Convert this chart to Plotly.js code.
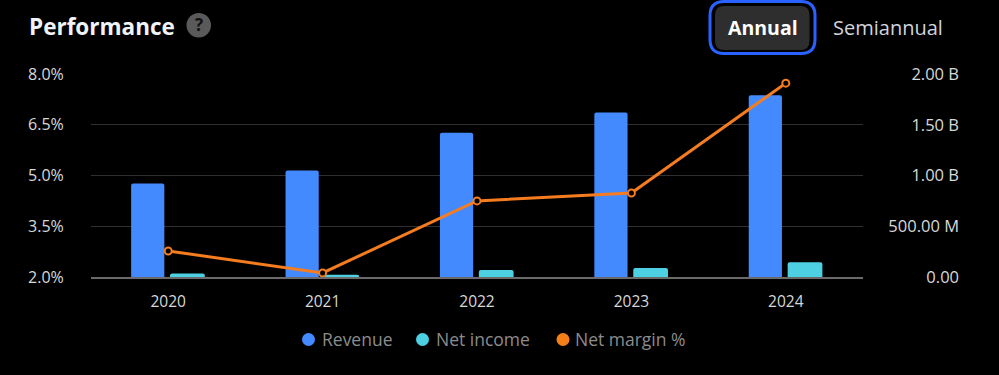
<!DOCTYPE html>
<html><head><meta charset="utf-8">
<script src="https://cdn.plot.ly/plotly-3.0.1.min.js"></script>
<style>html,body{margin:0;padding:0;background:#000;overflow:hidden}#c{width:999px;height:375px}</style>
</head><body><div id="c"></div>
<script>
const years = ['2020','2021','2022','2023','2024'];
const revenue = [0.92e9,1.05e9,1.42e9,1.62e9,1.79e9];
const netIncome = [0.035e9,0.022e9,0.07e9,0.088e9,0.145e9];
const netMargin = [2.77,2.12,4.25,4.48,7.73];
const leftTicks = [2,3.5,5,6.5,8];
const leftLabels = ['2.0%','3.5%','5.0%','6.5%','8.0%'];
const rightTicks = [0,0.5e9,1e9,1.5e9,2e9];
const rightLabels = ['0.00','500.00 M','1.00 B','1.50 B','2.00 B'];
const seriesNames = ['Revenue','Net income','Net margin %'];
const seriesColors = ['#448aff','#4dd0e1','#f57f17'];

const W=999,H=375;
const px=x=>x/W, py=y=>1-y/H;
const font='"Open Sans", sans-serif';
function rr(x0,y0,x1,y1,r){
  const X=px,Y=py;
  return `M ${X(x0+r)} ${Y(y0)} L ${X(x1-r)} ${Y(y0)} Q ${X(x1)} ${Y(y0)} ${X(x1)} ${Y(y0+r)} L ${X(x1)} ${Y(y1-r)} Q ${X(x1)} ${Y(y1)} ${X(x1-r)} ${Y(y1)} L ${X(x0+r)} ${Y(y1)} Q ${X(x0)} ${Y(y1)} ${X(x0)} ${Y(y1-r)} L ${X(x0)} ${Y(y0+r)} Q ${X(x0)} ${Y(y0)} ${X(x0+r)} ${Y(y0)} Z`;
}
const traces=[
 {type:'bar',name:seriesNames[0],x:years,y:revenue,yaxis:'y',width:0.215,offset:-0.24,marker:{color:seriesColors[0],cornerradius:2},showlegend:false,hoverinfo:'skip'},
 {type:'bar',name:seriesNames[1],x:years,y:netIncome,yaxis:'y',width:0.225,offset:0.012,marker:{color:seriesColors[1],cornerradius:2},showlegend:false,hoverinfo:'skip'},
 {type:'scatter',mode:'lines+markers',name:seriesNames[2],x:years,y:netMargin,yaxis:'y2',line:{color:'#f57c1f',width:3},marker:{size:7,color:'#000',line:{color:'#f57c1f',width:2}},showlegend:false,hoverinfo:'skip'}
];
const legendMarkerX=[308.5,422.5,563];
const legendTextX=[321.5,436,575];
const legendShapes=seriesNames.map((n,i)=>({type:'circle',xref:'paper',yref:'paper',x0:px(legendMarkerX[i]-6.5),x1:px(legendMarkerX[i]+6.5),y0:py(339.5+6.5),y1:py(339.5-6.5),line:{width:0},fillcolor:seriesColors[i]}));
const legendTexts=seriesNames.map((n,i)=>({xref:'paper',yref:'paper',x:px(legendTextX[i]),y:py(339),xanchor:'left',yanchor:'middle',xshift:-2,showarrow:false,text:n,font:{size:17.5,color:'#8c8c8c',family:font}}));
const layout={
 width:W,height:H,margin:{l:0,r:0,t:0,b:0,pad:0},
 paper_bgcolor:'#000',plot_bgcolor:'#000',font:{family:font,color:'#d1d4dc'},
 barmode:'overlay',showlegend:false,
 xaxis:{domain:[px(91),px(863)],type:'category',categoryorder:'array',categoryarray:years,range:[-0.5,4.5],
   showgrid:false,showline:true,linecolor:'#6a6a6a',linewidth:2,ticks:'outside',ticklen:9,tickcolor:'rgba(0,0,0,0)',
   tickfont:{size:15.5,color:'#d8d8d8',family:font},zeroline:false,fixedrange:true},
 yaxis:{domain:[py(277),py(74)],range:[0,2e9],side:'left',anchor:'free',position:px(959),
   tickvals:rightTicks,ticktext:rightLabels,ticks:'',showline:false,zeroline:false,
   showgrid:true,gridcolor:'#303030',gridwidth:1,tickfont:{size:16.5,color:'#d8d8d8',family:font},fixedrange:true},
 yaxis2:{domain:[py(277),py(74)],range:[2,8],overlaying:'y',side:'left',anchor:'x',
   tickvals:leftTicks,ticktext:leftLabels,ticks:'outside',ticklen:23,tickcolor:'rgba(0,0,0,0)',
   showgrid:false,showline:false,zeroline:false,tickfont:{size:16,color:'#d8d8d8',family:font},fixedrange:true},
 shapes:[
  {type:'path',xref:'paper',yref:'paper',path:rr(710,1.5,815,53.5,14),line:{color:'#2962ff',width:3},fillcolor:'#000'},
  {type:'path',xref:'paper',yref:'paper',path:rr(715,6,809.5,50,9),line:{width:0},fillcolor:'#2e2e2e'},
  {type:'circle',xref:'paper',yref:'paper',x0:px(186.5),x1:px(211),y0:py(37.5),y1:py(13),line:{width:0},fillcolor:'#5a5a5a'},
  ...legendShapes
 ],
 annotations:[
  {xref:'paper',yref:'paper',x:px(27),y:py(26),xanchor:'left',yanchor:'middle',showarrow:false,text:'<b>Performance</b>',font:{size:22.5,color:'#f0f3fa',family:font}},
  {xref:'paper',yref:'paper',x:px(198.7),y:py(25),xanchor:'center',yanchor:'middle',showarrow:false,text:'<b>?</b>',font:{size:17,color:'#111',family:font}},
  {xref:'paper',yref:'paper',x:px(762.5),y:py(28),xanchor:'center',yanchor:'middle',showarrow:false,text:'<b>Annual</b>',font:{size:19.5,color:'#fff',family:font}},
  {xref:'paper',yref:'paper',x:px(887.5),y:py(28),xanchor:'center',yanchor:'middle',showarrow:false,text:'Semiannual',font:{size:20,color:'#d1d4dc',family:font}},
  ...legendTexts
 ]
};
Plotly.newPlot('c',traces,layout,{displayModeBar:false,responsive:false});
</script></body></html>
